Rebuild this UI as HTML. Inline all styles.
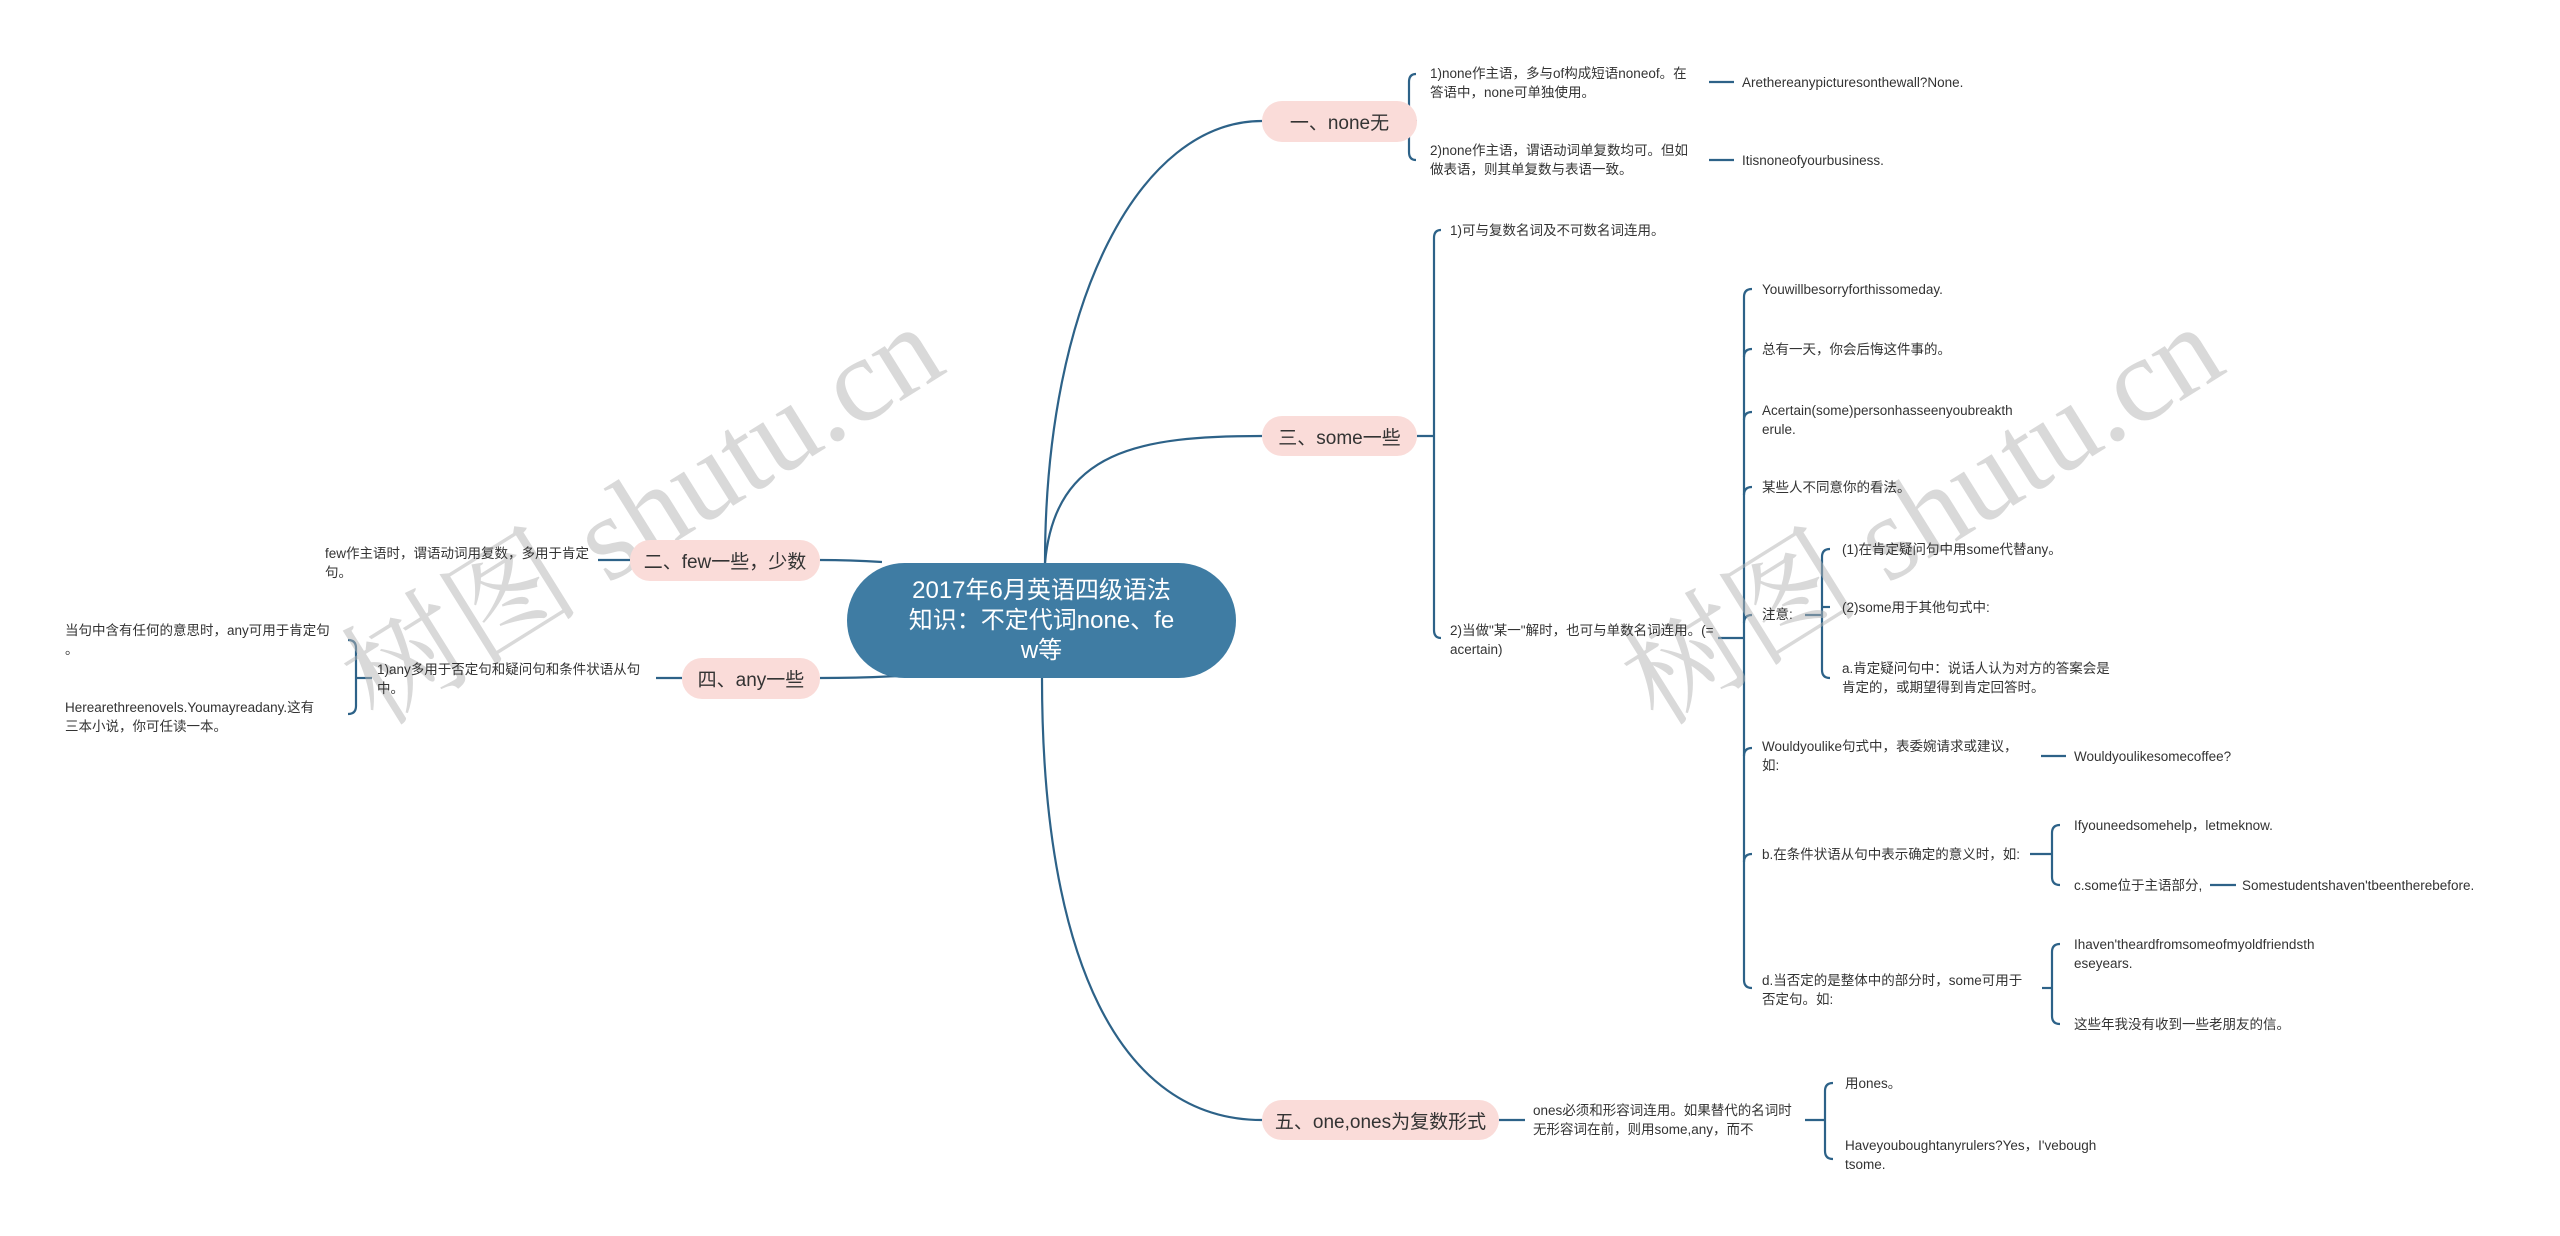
<!DOCTYPE html>
<html><head><meta charset="utf-8"><style>
body{margin:0;width:2560px;height:1236px;background:#fff;position:relative;overflow:hidden;font-family:"Liberation Sans","Noto Sans CJK SC",sans-serif;}
.t{position:absolute;font-size:13.5px;line-height:19px;color:#333;white-space:nowrap;}
.n{position:absolute;background:#fadcd9;border-radius:20px;color:#333;font-size:19px;display:flex;align-items:center;justify-content:center;}
.c{position:absolute;left:847px;top:563px;width:389px;height:115px;background:#3f7ca3;border-radius:58px;color:#fff;font-size:24px;line-height:30px;text-align:center;display:flex;align-items:center;justify-content:center;}
.w{position:absolute;font-family:"Liberation Serif","Noto Serif CJK SC",serif;font-size:120px;color:rgba(180,180,180,0.5);transform:rotate(-32deg);white-space:nowrap;}
svg{position:absolute;left:0;top:0}
</style></head><body>
<svg width="2560" height="1236" fill="none" stroke="#2d6288" stroke-width="2.2">
<path d="M1045,563 C1045,300 1140,121 1262,121"/>
<path d="M1045,563 C1055,450 1140,436 1262,436"/>
<path d="M1042,678 C1042,960 1120,1120 1262,1120"/>
<path d="M882,562 Q850,560 820,560"/>
<path d="M898,676 Q860,678 820,678"/>
<path d="M1417,121 H1409"/>
<path d="M1416,74 Q1409,74 1409,82 V152 Q1409,160 1416,160"/>
<path d="M1709,82 H1734 M1709,160 H1734"/>
<path d="M1417,436 H1434"/>
<path d="M1441,230 Q1434,230 1434,238 V630 Q1434,638 1441,638"/>
<path d="M1718,638 H1744"/>
<path d="M1752,289 Q1744,289 1744,297 V980 Q1744,988 1752,988"/>
<path d="M1752,349 Q1744,349 1744,357 M1752,412 Q1744,412 1744,420 M1752,487 Q1744,487 1744,495 M1752,615 Q1744,615 1744,623 M1752,748 Q1744,748 1744,756 M1752,854 Q1744,854 1744,862"/>
<path d="M1805,615 H1822"/>
<path d="M1830,549 Q1822,549 1822,557 V670 Q1822,678 1830,678"/>
<path d="M1822,607 H1830"/>
<path d="M2041,756 H2066"/>
<path d="M2030,854 H2052"/>
<path d="M2060,825 Q2052,825 2052,833 V877 Q2052,885 2060,885"/>
<path d="M2210,885 H2236"/>
<path d="M2042,988 H2052"/>
<path d="M2060,944 Q2052,944 2052,952 V1016 Q2052,1024 2060,1024"/>
<path d="M1499,1120 H1525"/>
<path d="M1805,1120 H1825"/>
<path d="M1833,1083 Q1825,1083 1825,1091 V1151 Q1825,1159 1833,1159"/>
<path d="M630,560 H598"/>
<path d="M682,678 H656"/>
<path d="M372,678 H356"/>
<path d="M348,640 Q356,640 356,648 V706 Q356,714 348,714"/>
</svg>
<div class="w" style="left:300px;top:420px">树图 shutu.cn</div>
<div class="w" style="left:1580px;top:420px">树图 shutu.cn</div>
<div class="c">2017年6月英语四级语法<br>知识：不定代词none、fe<br>w等</div>
<div class="n" style="left:1262px;top:101px;width:155px;height:41px">一、none无</div>
<div class="n" style="left:1262px;top:416px;width:155px;height:40px">三、some一些</div>
<div class="n" style="left:1262px;top:1100px;width:237px;height:40px">五、one,ones为复数形式</div>
<div class="n" style="left:630px;top:540px;width:190px;height:41px">二、few一些，少数</div>
<div class="n" style="left:682px;top:658px;width:138px;height:41px">四、any一些</div>

<div class="t" style="left:1430px;top:64px">1)none作主语，多与of构成短语noneof。在<br>答语中，none可单独使用。</div>
<div class="t" style="left:1430px;top:141px">2)none作主语，谓语动词单复数均可。但如<br>做表语，则其单复数与表语一致。</div>
<div class="t" style="left:1742px;top:73px">Arethereanypicturesonthewall?None.</div>
<div class="t" style="left:1742px;top:151px">Itisnoneofyourbusiness.</div>

<div class="t" style="left:1450px;top:221px">1)可与复数名词及不可数名词连用。</div>
<div class="t" style="left:1450px;top:621px">2)当做"某一"解时，也可与单数名词连用。(=<br>acertain)</div>
<div class="t" style="left:1762px;top:280px">Youwillbesorryforthissomeday.</div>
<div class="t" style="left:1762px;top:340px">总有一天，你会后悔这件事的。</div>
<div class="t" style="left:1762px;top:401px">Acertain(some)personhasseenyoubreakth<br>erule.</div>
<div class="t" style="left:1762px;top:478px">某些人不同意你的看法。</div>
<div class="t" style="left:1762px;top:605px">注意:</div>
<div class="t" style="left:1842px;top:540px">(1)在肯定疑问句中用some代替any。</div>
<div class="t" style="left:1842px;top:598px">(2)some用于其他句式中:</div>
<div class="t" style="left:1842px;top:659px">a.肯定疑问句中：说话人认为对方的答案会是<br>肯定的，或期望得到肯定回答时。</div>
<div class="t" style="left:1762px;top:737px">Wouldyoulike句式中，表委婉请求或建议，<br>如:</div>
<div class="t" style="left:2074px;top:747px">Wouldyoulikesomecoffee?</div>
<div class="t" style="left:1762px;top:845px">b.在条件状语从句中表示确定的意义时，如:</div>
<div class="t" style="left:2074px;top:816px">Ifyouneedsomehelp，letmeknow.</div>
<div class="t" style="left:2074px;top:876px">c.some位于主语部分,</div>
<div class="t" style="left:2242px;top:876px">Somestudentshaven'tbeentherebefore.</div>
<div class="t" style="left:1762px;top:971px">d.当否定的是整体中的部分时，some可用于<br>否定句。如:</div>
<div class="t" style="left:2074px;top:935px">Ihaven'theardfromsomeofmyoldfriendsth<br>eseyears.</div>
<div class="t" style="left:2074px;top:1015px">这些年我没有收到一些老朋友的信。</div>

<div class="t" style="left:1533px;top:1101px">ones必须和形容词连用。如果替代的名词时<br>无形容词在前，则用some,any，而不</div>
<div class="t" style="left:1845px;top:1074px">用ones。</div>
<div class="t" style="left:1845px;top:1136px">Haveyouboughtanyrulers?Yes，I'vebough<br>tsome.</div>

<div class="t" style="left:325px;top:544px">few作主语时，谓语动词用复数，多用于肯定<br>句。</div>
<div class="t" style="left:377px;top:660px">1)any多用于否定句和疑问句和条件状语从句<br>中。</div>
<div class="t" style="left:65px;top:621px">当句中含有任何的意思时，any可用于肯定句<br>。</div>
<div class="t" style="left:65px;top:698px">Herearethreenovels.Youmayreadany.这有<br>三本小说，你可任读一本。</div>
</body></html>
